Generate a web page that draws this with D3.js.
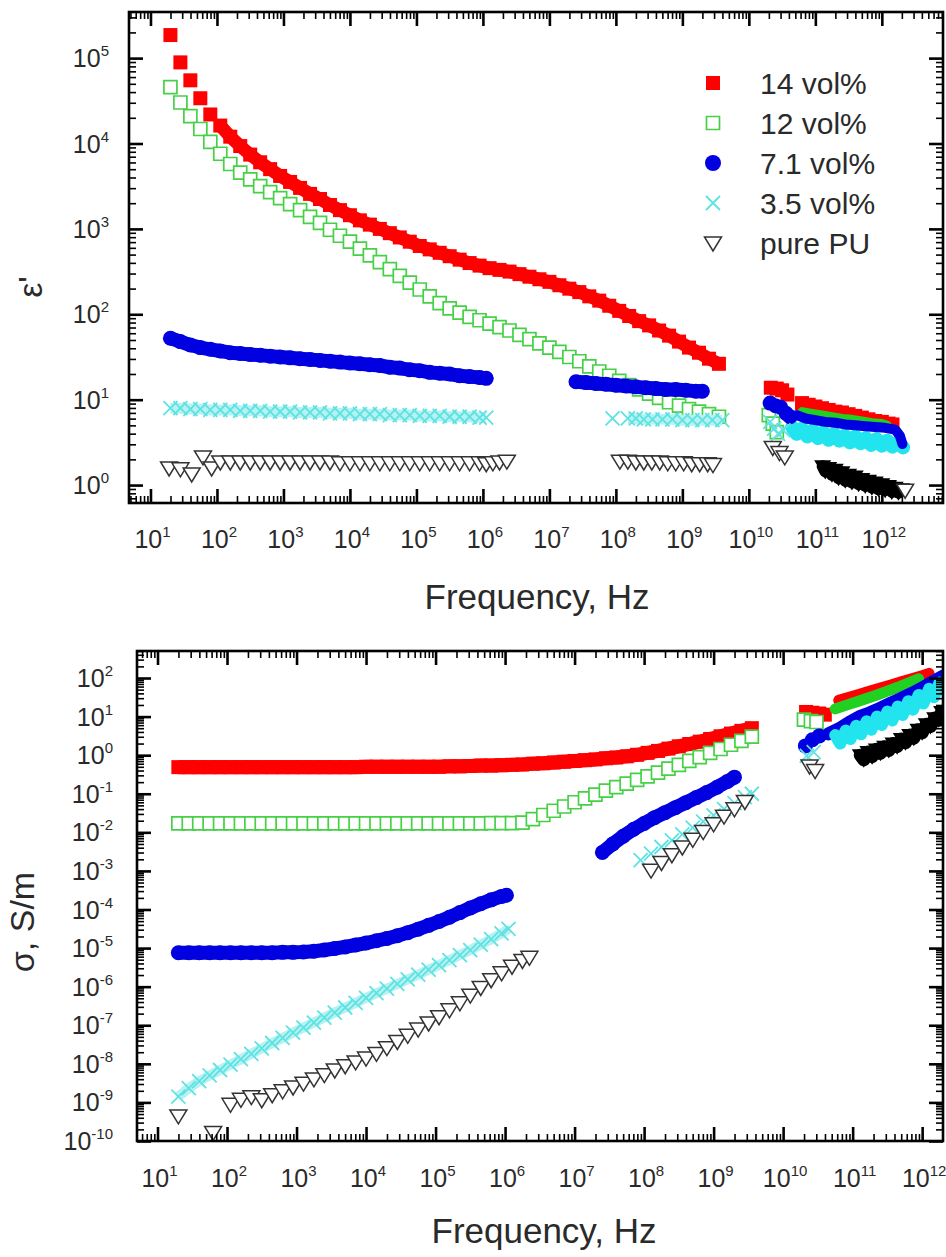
<!DOCTYPE html>
<html><head><meta charset="utf-8">
<script src="https://cdn.jsdelivr.net/npm/d3@7"></script>
<style>body{margin:0;background:#fff}svg{display:block}text{font-family:"Liberation Sans",Arial,sans-serif;fill:#2a2a2a}</style>
</head><body><svg id="c" width="946" height="1257"></svg>
<script>
// ---------- DATA (pairs are [log10 frequency(Hz), log10 value]) ----------
const seriesNames = ["14 vol%","12 vol%","7.1 vol%","3.5 vol%","pure PU"];
const xTickExps = [1,2,3,4,5,6,7,8,9,10,11,12];
const epsTickExps = [0,1,2,3,4,5];
const sigTickExps = [-10,-9,-8,-7,-6,-5,-4,-3,-2,-1,0,1,2];

// epsilon' (top panel)
const epsRed = [[1.30,5.27],[1.45,4.95],[1.60,4.74],[1.75,4.53],[1.90,4.34],[2.05,4.21],[2.20,4.08],[2.35,3.97],[2.50,3.87],[2.65,3.78],[2.80,3.70],[2.95,3.62],[3.10,3.55],[3.25,3.48],[3.40,3.41],[3.55,3.35],[3.70,3.28],[3.85,3.22],[4.00,3.16],[4.15,3.10],[4.30,3.05],[4.45,3.00],[4.60,2.95],[4.75,2.90],[4.90,2.85],[5.05,2.80],[5.20,2.76],[5.35,2.72],[5.50,2.68],[5.65,2.64],[5.80,2.60],[5.95,2.57],[6.10,2.54],[6.25,2.52],[6.40,2.50],[6.55,2.47],[6.70,2.44],[6.85,2.41],[7.00,2.38],[7.15,2.34],[7.30,2.30],[7.45,2.26],[7.60,2.21],[7.75,2.16],[7.90,2.10],[8.05,2.04],[8.20,1.98],[8.35,1.92],[8.50,1.87],[8.65,1.81],[8.80,1.75],[8.95,1.68],[9.10,1.61],[9.25,1.55],[9.40,1.48],[9.55,1.42]];
const epsRedWG = [[10.33,1.14],[10.42,1.13],[10.50,1.11],[10.58,1.06]];
const epsRedTHz = [[10.80,0.96],[10.90,0.94],[11.00,0.92],[11.10,0.90],[11.20,0.88],[11.30,0.86],[11.40,0.85],[11.50,0.83],[11.60,0.81],[11.70,0.79],[11.80,0.77],[11.90,0.75],[12.00,0.74],[12.10,0.72],[12.16,0.71]];

const epsGreen = [[1.30,4.66],[1.45,4.48],[1.60,4.32],[1.75,4.17],[1.90,4.02],[2.05,3.88],[2.20,3.76],[2.35,3.66],[2.50,3.58],[2.65,3.50],[2.80,3.43],[2.95,3.36],[3.10,3.29],[3.25,3.22],[3.40,3.14],[3.55,3.07],[3.70,2.99],[3.85,2.92],[4.00,2.85],[4.15,2.77],[4.30,2.69],[4.45,2.61],[4.60,2.53],[4.75,2.45],[4.90,2.37],[5.05,2.29],[5.20,2.21],[5.35,2.13],[5.50,2.07],[5.65,2.02],[5.80,1.97],[5.95,1.93],[6.10,1.89],[6.25,1.85],[6.40,1.81],[6.55,1.76],[6.70,1.71],[6.85,1.66],[7.00,1.61],[7.15,1.56],[7.30,1.50],[7.45,1.45],[7.60,1.39],[7.75,1.33],[7.90,1.28],[8.05,1.22],[8.20,1.17],[8.35,1.12],[8.50,1.07],[8.65,1.02],[8.80,0.97],[8.95,0.93],[9.10,0.89],[9.25,0.86],[9.40,0.83],[9.55,0.80]];
const epsGreenWG = [[10.30,0.82],[10.36,0.72],[10.42,0.62]];
const epsGreenTHz = [[10.80,0.86],[10.95,0.84],[11.10,0.82],[11.25,0.80],[11.40,0.78],[11.55,0.77],[11.70,0.75],[11.85,0.73],[12.00,0.72],[12.08,0.70]];

const epsBlue1 = [[1.30,1.72],[1.45,1.68],[1.60,1.64],[1.75,1.61],[1.90,1.59],[2.05,1.57],[2.20,1.55],[2.35,1.54],[2.50,1.53],[2.65,1.52],[2.80,1.51],[2.95,1.50],[3.10,1.49],[3.25,1.48],[3.40,1.47],[3.55,1.46],[3.70,1.45],[3.85,1.44],[4.00,1.43],[4.15,1.42],[4.30,1.41],[4.45,1.40],[4.60,1.38],[4.75,1.37],[4.90,1.35],[5.05,1.34],[5.20,1.32],[5.35,1.31],[5.50,1.30],[5.65,1.28],[5.80,1.27],[5.95,1.26],[6.05,1.25]];
const epsBlue2 = [[7.40,1.21],[7.55,1.20],[7.70,1.19],[7.85,1.18],[8.00,1.17],[8.15,1.16],[8.30,1.15],[8.45,1.14],[8.60,1.13],[8.75,1.12],[8.90,1.12],[9.05,1.11],[9.20,1.10],[9.30,1.10]];
const epsBlueWG = [[10.32,0.96],[10.40,0.93],[10.48,0.91],[10.56,0.84],[10.62,0.80]];
const epsBlueTHz = [[10.72,0.82],[10.85,0.78],[11.00,0.76],[11.15,0.74],[11.30,0.73],[11.45,0.71],[11.60,0.70],[11.75,0.69],[11.90,0.68],[12.05,0.67],[12.20,0.65],[12.27,0.58],[12.31,0.48]];

const epsCyan1 = [[1.30,0.90],[1.45,0.90],[1.60,0.89],[1.75,0.89],[1.90,0.88],[2.05,0.88],[2.20,0.88],[2.35,0.87],[2.50,0.87],[2.65,0.87],[2.80,0.86],[2.95,0.86],[3.10,0.86],[3.25,0.85],[3.40,0.85],[3.55,0.85],[3.70,0.84],[3.85,0.84],[4.00,0.84],[4.15,0.83],[4.30,0.83],[4.45,0.83],[4.60,0.82],[4.75,0.82],[4.90,0.82],[5.05,0.81],[5.20,0.81],[5.35,0.81],[5.50,0.80],[5.65,0.80],[5.80,0.80],[5.95,0.79],[6.05,0.79]];
const epsCyan2 = [[7.95,0.78],[8.18,0.78],[8.30,0.78],[8.42,0.77],[8.55,0.77],[8.70,0.77],[8.85,0.77],[9.00,0.76],[9.15,0.76],[9.30,0.76],[9.45,0.76],[9.60,0.76]];
const epsCyanWG = [[10.32,0.74],[10.38,0.66],[10.44,0.60],[10.52,0.64]];
const epsCyanTHz = [[10.65,0.68],[10.72,0.60],[10.80,0.66],[10.88,0.57],[10.96,0.64],[11.04,0.55],[11.12,0.62],[11.20,0.53],[11.28,0.60],[11.36,0.52],[11.44,0.58],[11.52,0.50],[11.60,0.57],[11.68,0.49],[11.76,0.55],[11.84,0.47],[11.92,0.54],[12.00,0.46],[12.08,0.52],[12.16,0.45],[12.24,0.50],[12.32,0.44]];

const epsPU1 = [[1.28,0.20],[1.45,0.19],[1.62,0.13],[1.79,0.33],[1.92,0.20],[2.05,0.27],[2.20,0.27],[2.35,0.27],[2.50,0.27],[2.65,0.27],[2.80,0.27],[2.95,0.27],[3.10,0.27],[3.25,0.27],[3.40,0.27],[3.55,0.27],[3.70,0.27],[3.85,0.26],[4.00,0.26],[4.15,0.26],[4.30,0.26],[4.45,0.26],[4.60,0.26],[4.75,0.26],[4.90,0.26],[5.05,0.26],[5.20,0.26],[5.35,0.26],[5.50,0.26],[5.65,0.26],[5.80,0.26],[5.95,0.26],[6.05,0.25],[6.15,0.26],[6.25,0.27],[6.36,0.28]];
const epsPU2 = [[8.06,0.28],[8.18,0.28],[8.30,0.27],[8.42,0.27],[8.54,0.27],[8.66,0.27],[8.78,0.26],[8.90,0.26],[9.02,0.26],[9.14,0.25],[9.26,0.25],[9.38,0.25],[9.46,0.24]];
const epsPUOpenHF = [[10.36,0.44],[10.46,0.38],[10.54,0.33],[12.35,-0.06]];
const epsPUTHz = [[11.11,0.22],[11.15,0.16],[11.20,0.20],[11.25,0.12],[11.30,0.18],[11.35,0.08],[11.40,0.15],[11.45,0.05],[11.50,0.12],[11.55,0.03],[11.60,0.10],[11.65,0.01],[11.70,0.07],[11.75,-0.01],[11.80,0.05],[11.85,-0.03],[11.90,0.03],[11.95,-0.05],[12.00,0.01],[12.05,-0.06],[12.10,-0.01],[12.15,-0.08],[12.20,-0.03],[12.25,-0.09],[12.30,-0.05]];

// sigma (bottom panel)
const sigRed = [[1.30,-0.31],[1.45,-0.31],[1.60,-0.31],[1.75,-0.31],[1.90,-0.31],[2.05,-0.31],[2.20,-0.31],[2.35,-0.31],[2.50,-0.31],[2.65,-0.31],[2.80,-0.31],[2.95,-0.31],[3.10,-0.31],[3.25,-0.31],[3.40,-0.31],[3.55,-0.31],[3.70,-0.31],[3.85,-0.31],[4.00,-0.30],[4.15,-0.30],[4.30,-0.30],[4.45,-0.30],[4.60,-0.30],[4.75,-0.30],[4.90,-0.30],[5.05,-0.30],[5.20,-0.29],[5.35,-0.29],[5.50,-0.28],[5.65,-0.27],[5.80,-0.27],[5.95,-0.26],[6.10,-0.25],[6.25,-0.24],[6.40,-0.22],[6.55,-0.21],[6.70,-0.19],[6.85,-0.17],[7.00,-0.15],[7.15,-0.13],[7.30,-0.11],[7.45,-0.08],[7.60,-0.06],[7.75,-0.03],[7.90,0.01],[8.05,0.06],[8.20,0.11],[8.35,0.17],[8.50,0.23],[8.65,0.29],[8.80,0.35],[8.95,0.42],[9.10,0.49],[9.25,0.56],[9.40,0.63],[9.55,0.70]];
const sigRedWG = [[10.33,1.12],[10.42,1.10],[10.52,1.08],[10.60,1.05]];
const sigRedTHz = [[10.80,1.42],[10.95,1.50],[11.10,1.58],[11.25,1.66],[11.40,1.74],[11.55,1.82],[11.70,1.90],[11.85,1.98],[12.00,2.06],[12.10,2.12]];

const sigGreen = [[1.30,-1.77],[1.45,-1.77],[1.60,-1.77],[1.75,-1.77],[1.90,-1.77],[2.05,-1.77],[2.20,-1.77],[2.35,-1.77],[2.50,-1.77],[2.65,-1.77],[2.80,-1.77],[2.95,-1.77],[3.10,-1.77],[3.25,-1.77],[3.40,-1.77],[3.55,-1.77],[3.70,-1.77],[3.85,-1.77],[4.00,-1.77],[4.15,-1.77],[4.30,-1.77],[4.45,-1.77],[4.60,-1.77],[4.75,-1.77],[4.90,-1.77],[5.05,-1.77],[5.20,-1.77],[5.35,-1.77],[5.50,-1.77],[5.65,-1.77],[5.80,-1.76],[5.95,-1.76],[6.10,-1.76],[6.25,-1.75],[6.40,-1.66],[6.55,-1.55],[6.70,-1.44],[6.85,-1.33],[7.00,-1.22],[7.15,-1.12],[7.30,-1.02],[7.45,-0.92],[7.60,-0.83],[7.75,-0.74],[7.90,-0.64],[8.05,-0.55],[8.20,-0.45],[8.35,-0.35],[8.50,-0.25],[8.65,-0.15],[8.80,-0.05],[8.95,0.06],[9.10,0.16],[9.25,0.27],[9.40,0.37],[9.55,0.48]];
const sigGreenWG = [[10.30,0.92],[10.40,0.88],[10.48,0.86]];
const sigGreenTHz = [[10.75,1.20],[10.90,1.29],[11.05,1.38],[11.20,1.47],[11.35,1.56],[11.50,1.66],[11.65,1.76],[11.80,1.87],[11.95,1.98]];

const sigBlue1 = [[1.30,-5.12],[1.45,-5.12],[1.60,-5.12],[1.75,-5.12],[1.90,-5.12],[2.05,-5.12],[2.20,-5.12],[2.35,-5.12],[2.50,-5.12],[2.65,-5.12],[2.80,-5.11],[2.95,-5.11],[3.10,-5.10],[3.25,-5.08],[3.40,-5.05],[3.55,-5.01],[3.70,-4.97],[3.85,-4.92],[4.00,-4.87],[4.15,-4.81],[4.30,-4.75],[4.45,-4.68],[4.60,-4.60],[4.75,-4.51],[4.90,-4.41],[5.05,-4.31],[5.20,-4.20],[5.35,-4.08],[5.50,-3.96],[5.65,-3.85],[5.80,-3.75],[5.95,-3.66],[6.02,-3.63]];
const sigBlue2 = [[7.40,-2.52],[7.55,-2.30],[7.70,-2.10],[7.85,-1.92],[8.00,-1.77],[8.15,-1.62],[8.30,-1.49],[8.45,-1.36],[8.60,-1.23],[8.75,-1.10],[8.90,-0.97],[9.05,-0.83],[9.20,-0.68],[9.30,-0.57]];
const sigBlueWG = [[10.32,0.24],[10.42,0.40],[10.52,0.50]];
const sigBlueTHz = [[10.65,0.55],[10.80,0.68],[10.95,0.85],[11.10,1.00],[11.25,1.10],[11.40,1.22],[11.55,1.35],[11.70,1.47],[11.85,1.60],[12.00,1.74],[12.15,1.90],[12.30,2.05]];

const sigCyan1 = [[1.30,-8.85],[1.45,-8.63],[1.60,-8.45],[1.75,-8.30],[1.90,-8.16],[2.05,-8.02],[2.20,-7.88],[2.35,-7.74],[2.50,-7.60],[2.65,-7.46],[2.80,-7.33],[2.95,-7.19],[3.10,-7.06],[3.25,-6.93],[3.40,-6.80],[3.55,-6.67],[3.70,-6.54],[3.85,-6.42],[4.00,-6.29],[4.15,-6.17],[4.30,-6.05],[4.45,-5.93],[4.60,-5.81],[4.75,-5.69],[4.90,-5.56],[5.05,-5.44],[5.20,-5.31],[5.35,-5.18],[5.50,-5.05],[5.65,-4.91],[5.80,-4.77],[5.95,-4.62],[6.05,-4.50]];
const sigCyan2 = [[7.95,-2.72],[8.10,-2.55],[8.25,-2.38],[8.40,-2.21],[8.55,-2.05],[8.70,-1.88],[8.85,-1.72],[9.00,-1.56],[9.15,-1.40],[9.30,-1.24],[9.45,-1.09],[9.55,-1.00]];
const sigCyanWG = [[10.34,-0.02],[10.44,0.08]];
const sigCyanTHz = [[10.75,0.52],[10.82,0.30],[10.90,0.64],[10.97,0.42],[11.05,0.76],[11.12,0.54],[11.20,0.88],[11.27,0.66],[11.35,1.00],[11.42,0.78],[11.50,1.13],[11.57,0.90],[11.65,1.26],[11.72,1.04],[11.80,1.40],[11.87,1.18],[11.95,1.56],[12.02,1.34],[12.10,1.72],[12.17,1.50],[12.25,1.88],[12.32,1.70]];

const sigPU1 = [[1.30,-9.35],[1.80,-9.78],[2.05,-9.05],[2.20,-8.92],[2.35,-8.85],[2.50,-8.93],[2.65,-8.80],[2.80,-8.70],[2.95,-8.60],[3.10,-8.50],[3.25,-8.39],[3.40,-8.28],[3.55,-8.16],[3.70,-8.05],[3.85,-7.95],[4.00,-7.85],[4.15,-7.73],[4.30,-7.58],[4.45,-7.42],[4.60,-7.26],[4.75,-7.10],[4.90,-6.94],[5.05,-6.78],[5.20,-6.60],[5.35,-6.42],[5.50,-6.22],[5.65,-6.02],[5.80,-5.82],[5.95,-5.64],[6.10,-5.47],[6.25,-5.32],[6.35,-5.24]];
const sigPU2 = [[8.10,-2.98],[8.25,-2.78],[8.40,-2.58],[8.55,-2.38],[8.70,-2.18],[8.85,-1.98],[9.00,-1.78],[9.15,-1.58],[9.30,-1.39],[9.45,-1.20]];
const sigPUOpenHF = [[10.38,-0.28],[10.46,-0.40]];
const sigPUTHz = [[11.11,0.00],[11.16,-0.12],[11.22,0.08],[11.28,-0.04],[11.34,0.15],[11.40,0.05],[11.46,0.22],[11.52,0.12],[11.58,0.30],[11.64,0.22],[11.70,0.42],[11.76,0.32],[11.82,0.52],[11.88,0.44],[11.94,0.66],[12.00,0.58],[12.06,0.80],[12.12,0.74],[12.18,0.96],[12.24,0.92],[12.28,1.12]];

// ---------- DRAWING ----------
const svg = d3.select("#c");
const COL = {red:"#ff0000", green:"#46d046", blue:"#0000e0", cyan:"#5ee2e2", pu:"#333333"};
const BAND = {red:"#ff0000", green:"#22d022", blue:"#0000e0", cyan:"#22e4ee", pu:"#000000", cyanSoft:"#b6f2f2"};
const shapes = {
  sqF:"M-7,-7h14v14h-14Z", sqO:"M-6.5,-6.5h13v13h-13Z",
  x:"M-7,-7L7,7M-7,7L7,-7", triO:"M-8.5,-6L8.5,-6L0,8Z", triF:"M-8.5,-6L8.5,-6L0,8Z"
};
function P(a){ return a.map(d => [Math.pow(10,d[0]), Math.pow(10,d[1])]); }
function marks(g, pts, type, x, y){
  const data = P(pts);
  if(type === "circle"){
    g.selectAll(null).data(data).enter().append("circle")
      .attr("cx", d=>x(d[0])).attr("cy", d=>y(d[1])).attr("r",7.5).attr("fill",COL.blue);
    return;
  }
  const p = g.selectAll(null).data(data).enter().append("path")
    .attr("transform", d=>`translate(${x(d[0])},${y(d[1])})`).attr("d", shapes[type]);
  styleMark(p, type);
}
function styleMark(p, type){
  if(type==="sqF") p.attr("fill",COL.red);
  if(type==="sqO") p.attr("fill","#fff").attr("stroke",COL.green).attr("stroke-width",1.7);
  if(type==="x") p.attr("fill","none").attr("stroke",COL.cyan).attr("stroke-width",1.8);
  if(type==="triO") p.attr("fill","#fff").attr("stroke",COL.pu).attr("stroke-width",1.5);
  if(type==="triF") p.attr("fill","#000");
}
function band(g, pts, color, w, x, y, cap){
  g.append("path").datum(P(pts))
    .attr("d", d3.line().x(d=>x(d[0])).y(d=>y(d[1])))
    .attr("fill","none").attr("stroke",color).attr("stroke-width",w)
    .attr("stroke-linejoin","round").attr("stroke-linecap",cap||"round");
}
function decades(dom){ const a=[]; for(let e=Math.ceil(Math.log10(dom[0])); e<=Math.floor(Math.log10(dom[1])); e++) a.push(Math.pow(10,e)); return a; }
function minors(dom){ const a=[]; for(let e=Math.floor(Math.log10(dom[0])); e<=Math.floor(Math.log10(dom[1])); e++) for(let k=2;k<10;k++){ const v=k*Math.pow(10,e); if(v>=dom[0]&&v<=dom[1]) a.push(v);} return a; }
function expLabel(g, px, py, e, anchor){
  const t = g.append("text").attr("x",px).attr("y",py).attr("text-anchor",anchor).style("font-size","25px");
  t.append("tspan").text("10");
  t.append("tspan").attr("dy",-11).style("font-size","15px").text(String(e));
}

function panel(o){
  const x = d3.scaleLog().domain(o.xd).range([o.l,o.r]);
  const y = d3.scaleLog().domain(o.yd).range([o.b,o.t]);
  const id = "clip"+o.name;
  svg.append("clipPath").attr("id",id).append("rect").attr("x",o.l).attr("y",o.t).attr("width",o.r-o.l).attr("height",o.b-o.t);
  const g = svg.append("g");
  const dg = g.append("g").attr("clip-path",`url(#${id})`);
  o.draw(dg, x, y);
  const ax = (gen, tr, vals, len, w) => {
    g.append("g").attr("transform",tr)
      .call(gen.tickValues(vals).tickSizeInner(-len).tickSizeOuter(0).tickFormat(()=>""))
      .call(s=>{ s.select(".domain").remove(); s.selectAll("line").attr("stroke","#000").attr("stroke-width",w); s.selectAll("text").remove(); });
  };
  const xM=decades(o.xd), xm=minors(o.xd), yM=decades(o.yd), ym=minors(o.yd);
  ax(d3.axisBottom(x),`translate(0,${o.b})`,xm,7,1.6);
  ax(d3.axisTop(x),`translate(0,${o.t})`,xm,7,1.6);
  ax(d3.axisBottom(x),`translate(0,${o.b})`,xM,14,2.6);
  ax(d3.axisTop(x),`translate(0,${o.t})`,xM,14,2.6);
  ax(d3.axisLeft(y),`translate(${o.l},0)`,ym,7,1.6);
  ax(d3.axisRight(y),`translate(${o.r},0)`,ym,7,1.6);
  ax(d3.axisLeft(y),`translate(${o.l},0)`,yM,14,2.6);
  ax(d3.axisRight(y),`translate(${o.r},0)`,yM,14,2.6);
  g.append("rect").attr("x",o.l).attr("y",o.t).attr("width",o.r-o.l).attr("height",o.b-o.t)
    .attr("fill","none").attr("stroke","#000").attr("stroke-width",2.6);
  xTickExps.forEach(e=>expLabel(g, x(Math.pow(10,e))+2, o.xlab, e, "middle"));
  o.yticks.forEach(e=>expLabel(g, o.ylabX, y(Math.pow(10,e))+9, e, "end"));
  g.append("text").attr("x",o.xtX).attr("y",o.xtY).attr("text-anchor","middle").style("font-size","35px").text("Frequency, Hz");
  g.append("text").attr("transform",`translate(${o.ytX},${o.ytY}) rotate(-90)`).attr("text-anchor","middle").style("font-size","34px").text(o.ytitle);
  return {g,x,y};
}

// top panel: epsilon'
const panelTop = panel({
  name:"top", xd:[Math.pow(10,0.677),Math.pow(10,12.92)], yd:[Math.pow(10,-0.21),Math.pow(10,5.54)],
  l:129, r:943, t:12, b:503, xlab:548, ylabX:109, yticks:epsTickExps,
  xtX:537, xtY:609, ytX:42, ytY:287, ytitle:"ε'",
  draw:(g,x,y)=>{
    band(g,epsRed.slice(5),BAND.red,13,x,y,"butt");
    marks(g,epsRed,"sqF",x,y); marks(g,epsRedWG,"sqF",x,y);
    band(g,epsRedTHz,BAND.red,11,x,y); marks(g,epsRedTHz,"sqF",x,y);
    marks(g,epsGreen,"sqO",x,y); marks(g,epsGreenWG,"sqO",x,y);
    band(g,epsGreenTHz,BAND.green,9,x,y);
    band(g,epsBlue1,BAND.blue,14,x,y,"butt"); band(g,epsBlue2,BAND.blue,14,x,y,"butt");
    marks(g,epsBlue1,"circle",x,y); marks(g,epsBlue2,"circle",x,y);
    band(g,epsCyanTHz,BAND.cyan,14,x,y);
    marks(g,epsBlueWG,"circle",x,y); band(g,epsBlueTHz,BAND.blue,10,x,y);
    band(g,epsCyan1,BAND.cyanSoft,11,x,y,"butt"); band(g,epsCyan2.slice(1),BAND.cyanSoft,11,x,y,"butt");
    marks(g,epsCyan1,"x",x,y); marks(g,epsCyan2,"x",x,y); marks(g,epsCyanWG,"x",x,y);
    marks(g,epsPU1,"triO",x,y); marks(g,epsPU2,"triO",x,y);
    band(g,epsPUTHz,BAND.pu,12,x,y); marks(g,epsPUTHz,"triF",x,y);
    marks(g,epsPUOpenHF,"triO",x,y);
  }
});

// legend
const legTypes = ["sqF","sqO","circle","x","triO"];
const legY = [83,123,163,203,243];
legTypes.forEach((t,i)=>{
  if(t==="circle") svg.append("circle").attr("cx",713).attr("cy",legY[i]).attr("r",8).attr("fill",COL.blue);
  else { const p = svg.append("path").attr("transform",`translate(713,${legY[i]})`).attr("d",shapes[t]); styleMark(p,t); }
  svg.append("text").attr("x",760).attr("y",legY[i]+11).style("font-size","30px").text(seriesNames[i]);
});

// bottom panel: sigma
const panelBot = panel({
  name:"bot", xd:[Math.pow(10,0.705),Math.pow(10,12.30)], yd:[Math.pow(10,-10),Math.pow(10,2.70)],
  l:137, r:943, t:651, b:1141, xlab:1187, ylabX:113, yticks:sigTickExps,
  xtX:544, xtY:1243, ytX:34, ytY:922, ytitle:"σ, S/m",
  draw:(g,x,y)=>{
    band(g,sigRed,BAND.red,14,x,y,"butt");
    marks(g,sigRed,"sqF",x,y); marks(g,sigRedWG,"sqF",x,y);
    band(g,sigRedTHz,BAND.red,11,x,y);
    marks(g,sigGreen,"sqO",x,y); marks(g,sigGreenWG,"sqO",x,y);
    band(g,sigGreenTHz,BAND.green,11,x,y);
    band(g,sigBlue1,BAND.blue,14,x,y,"butt"); band(g,sigBlue2,BAND.blue,14,x,y,"butt");
    marks(g,sigBlue1,"circle",x,y); marks(g,sigBlue2,"circle",x,y); marks(g,sigBlueWG,"circle",x,y);
    band(g,sigBlueTHz,BAND.blue,13,x,y);
    band(g,sigCyan1,BAND.cyanSoft,10,x,y,"butt");
    marks(g,sigCyan1,"x",x,y); marks(g,sigCyan2,"x",x,y); marks(g,sigCyanWG,"x",x,y);
    band(g,sigCyanTHz,BAND.cyan,12,x,y);
    marks(g,sigPU1,"triO",x,y); marks(g,sigPU2,"triO",x,y); marks(g,sigPUOpenHF,"triO",x,y);
    band(g,sigPUTHz,BAND.pu,13,x,y); marks(g,sigPUTHz,"triF",x,y);
  }
});
</script></body></html>
